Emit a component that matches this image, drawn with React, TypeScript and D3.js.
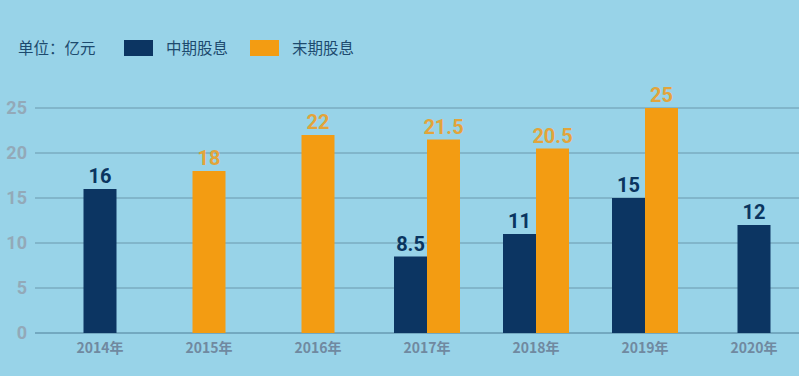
import React from "react";
import * as d3 from "d3";

const years = ["2014年", "2015年", "2016年", "2017年", "2018年", "2019年", "2020年"];
const interim: (number | null)[] = [16, null, null, 8.5, 11, 15, 12];
const finalDiv: (number | null)[] = [null, 18, 22, 21.5, 20.5, 25, null];
const yTicks = [0, 5, 10, 15, 20, 25];
const seriesNames = ["中期股息", "末期股息"];
const unitLabel = "单位：亿元";

const W = 799;
const H = 376;
const NAVY = "#0c3562";
const ORANGE = "#f39c12";
const BG = "#98d3e8";

export default function App() {
  const x = d3.scalePoint<string>().domain(years).range([100, 754]);
  const y = d3.scaleLinear().domain([0, 25]).range([333, 108]);
  const bw = 33;
  const font = "'Noto Sans CJK SC', 'Noto Sans', sans-serif";
  const numFont = "'Liberation Sans Narrow', 'Roboto', sans-serif";

  const bars: { x: number; v: number; color: string; label: string; lc: string }[] = [];
  years.forEach((yr, i) => {
    const c = x(yr)!;
    const a = interim[i];
    const b = finalDiv[i];
    if (a != null && b != null) {
      bars.push({ x: c - bw, v: a, color: NAVY, label: String(a), lc: "#0a3560" });
      bars.push({ x: c, v: b, color: ORANGE, label: String(b), lc: "#e3a43a" });
    } else if (a != null) {
      bars.push({ x: c - bw / 2, v: a, color: NAVY, label: String(a), lc: "#0a3560" });
    } else if (b != null) {
      bars.push({ x: c - bw / 2, v: b, color: ORANGE, label: String(b), lc: "#e3a43a" });
    }
  });

  return (
    <svg width={W} height={H} style={{ position: "absolute", left: 0, top: 0 }} fontFamily={font}>
      <rect x={0} y={0} width={W} height={H} fill={BG} />
      {/* legend */}
      <text x={18} y={54} fontSize={15.5} fill="#1d4a6e">{unitLabel}</text>
      <rect x={124} y={40} width={29} height={16} fill={NAVY} />
      <text x={166} y={54} fontSize={15.5} fill="#1d4a6e">{seriesNames[0]}</text>
      <rect x={250} y={40} width={29} height={16} fill={ORANGE} />
      <text x={292} y={54} fontSize={15.5} fill="#1d4a6e">{seriesNames[1]}</text>
      {/* grid */}
      {yTicks.map((t) => (
        <g key={t}>
          <line x1={35} x2={W} y1={y(t)} y2={y(t)} stroke={t === 0 ? "#4f7f98" : "#6a98ad"} strokeWidth={1} />
          <text x={27} y={y(t) + 6} textAnchor="end" fontSize={18} fontWeight="bold" fill="#93a9b8" fontFamily="Roboto, 'Noto Sans', sans-serif">{t}</text>
        </g>
      ))}
      {/* bars */}
      {bars.map((b, i) => (
        <g key={i}>
          <rect x={b.x} y={y(b.v)} width={bw} height={y(0) - y(b.v)} fill={b.color} />
          <text x={b.x + bw / 2} y={y(b.v) - 6} textAnchor="middle" fontSize={20} fontWeight="bold" fill={b.lc} fontFamily={numFont}>{b.label}</text>
        </g>
      ))}
      {/* x labels */}
      {years.map((yr) => (
        <text key={yr} x={x(yr)!} y={353} textAnchor="middle" fontSize={14} fontWeight="bold" fill="#7089a0">{yr}</text>
      ))}
    </svg>
  );
}
